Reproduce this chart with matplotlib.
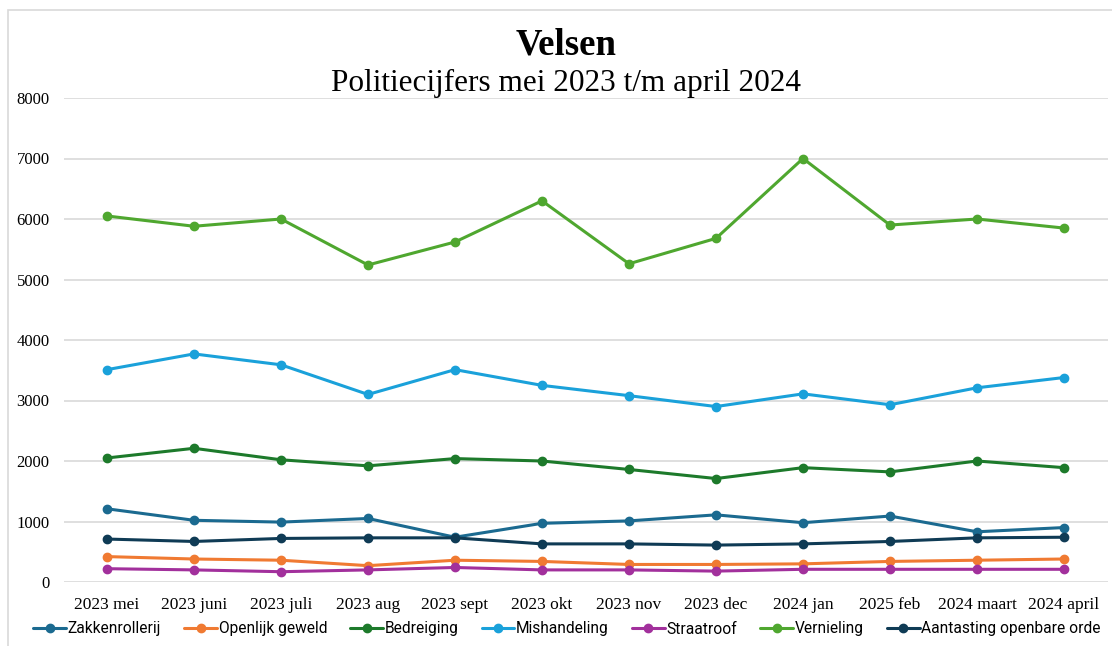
import matplotlib
matplotlib.use("Agg")
import matplotlib.pyplot as plt
from matplotlib.patches import Rectangle

maanden = ["2023 mei", "2023 juni", "2023 juli", "2023 aug", "2023 sept", "2023 okt",
           "2023 nov", "2023 dec", "2024 jan", "2025 feb", "2024 maart", "2024 april"]

zakkenrollerij = [1210, 1020, 990, 1050, 740, 970, 1010, 1110, 980, 1090, 830, 900]
openlijk_geweld = [420, 380, 360, 270, 360, 340, 290, 290, 300, 340, 360, 380]
bedreiging = [2050, 2210, 2020, 1920, 2040, 2000, 1860, 1710, 1890, 1820, 2000, 1890]
mishandeling = [3510, 3770, 3590, 3100, 3510, 3250, 3080, 2900, 3110, 2930, 3210, 3380]
straatroof = [220, 200, 170, 200, 240, 200, 200, 180, 210, 210, 210, 210]
vernieling = [6050, 5880, 6000, 5240, 5620, 6300, 5260, 5680, 7000, 5900, 6000, 5850]
aantasting = [710, 670, 720, 730, 730, 630, 630, 610, 630, 670, 730, 740]

reeksen = [
    ("Zakkenrollerij", zakkenrollerij, "#1b6a90"),
    ("Openlijk geweld", openlijk_geweld, "#f07a32"),
    ("Bedreiging", bedreiging, "#1d7a2b"),
    ("Mishandeling", mishandeling, "#1aa1da"),
    ("Straatroof", straatroof, "#a2309c"),
    ("Vernieling", vernieling, "#4fa72f"),
    ("Aantasting openbare orde", aantasting, "#0f3b55"),
]

fig = plt.figure(figsize=(11.12, 6.46), dpi=100)
# kader rond de grafiek
fig.patches.append(Rectangle((8 / 1112, -0.1), 1.2, (646 - 10) / 646 + 0.1,
                             transform=fig.transFigure, facecolor="none",
                             edgecolor="#d9d9d9", lw=1.2, zorder=-1))

ax = fig.add_axes([63.5 / 1112, 64 / 646, 1044 / 1112, 484 / 646])
ax.set_facecolor("none")
x = list(range(len(maanden)))
for naam, waarden, kleur in reeksen:
    ax.plot(x, waarden, color=kleur, lw=2.2, marker="o", ms=6, label=naam,
            solid_capstyle="round")

ax.set_xlim(-0.5, len(maanden) - 0.5)
ax.set_ylim(0, 8000)
ax.set_yticks(range(0, 8001, 1000))
ax.set_xticks(x)
ax.set_xticklabels(maanden, family="Liberation Serif", fontsize=12.5)
for t in ax.get_yticklabels():
    t.set_family("Liberation Serif")
    t.set_fontsize(12)
ax.tick_params(length=0, pad=10)
ax.tick_params(axis="x", pad=11)
ax.grid(axis="y", color="#d9d9d9", lw=1.2)
ax.set_axisbelow(True)
for s in ax.spines.values():
    s.set_visible(False)

fig.text(566 / 1112, 1 - 45 / 646, "Velsen", ha="center", va="center",
         family="Liberation Serif", fontweight="bold", fontsize=26.5)
fig.text(566 / 1112, 1 - 83 / 646, "Politiecijfers mei 2023 t/m april 2024",
         ha="center", va="center", family="Liberation Serif", fontsize=22.5)

fig.legend(loc="center", bbox_to_anchor=(567 / 1112, 1 - 629 / 646), ncol=7,
           frameon=False, prop={"family": "Roboto", "size": 11.2},
           handlelength=2.1, handletextpad=0.1, columnspacing=1.5,
           borderaxespad=0, borderpad=0)

fig.savefig("out.png", dpi=100)
